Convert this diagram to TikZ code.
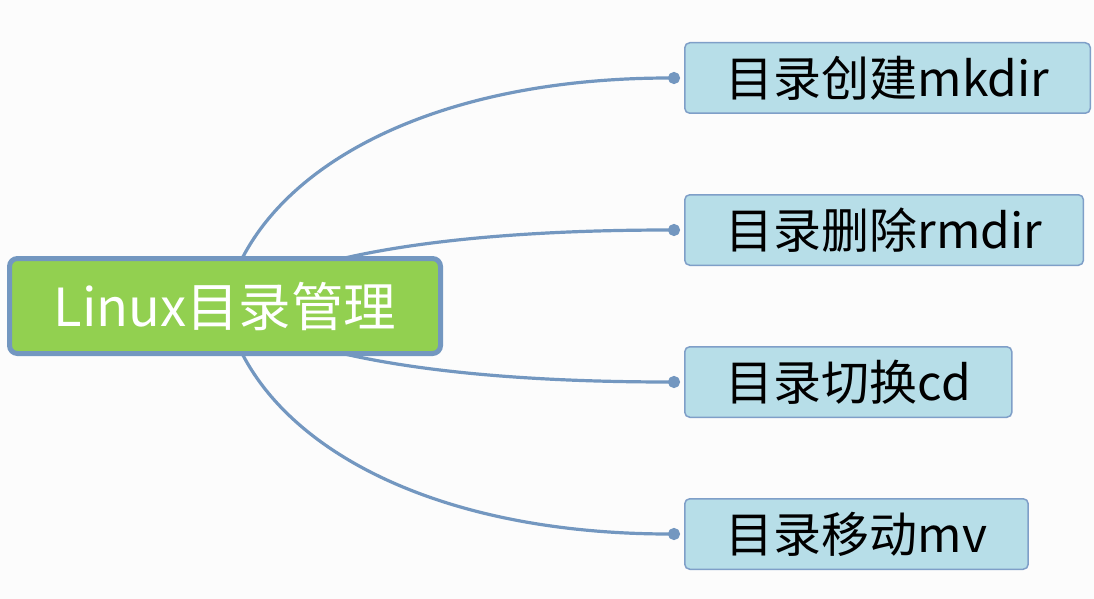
\documentclass[tikz,border=0pt]{standalone}
\usepackage{fontspec}
\newfontfamily\cjk{Noto Sans CJK SC}
\usetikzlibrary{arrows.meta}
\definecolor{branchblue}{HTML}{7397C0}
\definecolor{rootgreen}{HTML}{92D050}
\definecolor{leafblue}{HTML}{B7DEE8}
\definecolor{leafline}{HTML}{7F9FC8}
\definecolor{paper}{HTML}{FCFCFC}
\pgfdeclarelayer{paperlayer}
\pgfdeclarelayer{edgelayer}
\pgfsetlayers{paperlayer,edgelayer,main}
\begin{document}
\begin{tikzpicture}[x=1pt,y=-1pt,
		rootbox/.style={draw=branchblue,line width=5pt,fill=rootgreen,rounded corners=8pt,
			text=white,font=\cjk\fontsize{52.5}{60}\selectfont,minimum width=431pt,minimum height=95pt},
		leafbox/.style={draw=leafline,line width=1.5pt,fill=leafblue,rounded corners=5pt,anchor=west,
			text=black,font=\cjk\fontsize{48}{58}\selectfont,inner xsep=41pt,minimum height=70.5pt},
		branch/.style={draw=branchblue,line width=3.2pt,-{Circle[length=12pt]}}]
			\useasboundingbox (0,0) rectangle (1094,599);
			\begin{pgfonlayer}{paperlayer}
				\fill[paper] (0,0) rectangle (1094,599);
			\end{pgfonlayer}

			\node[rootbox] (root) at (225,306) {Linux目录管理};

			\node[leafbox] (mkdir) at (684,78) {目录创建mkdir};
			\node[leafbox] (rmdir) at (684,230) {目录删除rmdir};
			\node[leafbox] (cd) at (684,382) {目录切换cd};
			\node[leafbox] (mv) at (684,534) {目录移动mv};

			\begin{pgfonlayer}{edgelayer}
				\draw[branch] (root.center) .. controls +(28,-130) and +(-260,0) .. ([xshift=-4pt]mkdir.west);
				\draw[branch] (root.center) .. controls +(65,-50) and +(-230,0) .. ([xshift=-4pt]rmdir.west);
				\draw[branch] (root.center) .. controls +(65,50) and +(-230,0) .. ([xshift=-4pt]cd.west);
				\draw[branch] (root.center) .. controls +(28,130) and +(-260,0) .. ([xshift=-4pt]mv.west);
			\end{pgfonlayer}
		\end{tikzpicture}
\end{document}
